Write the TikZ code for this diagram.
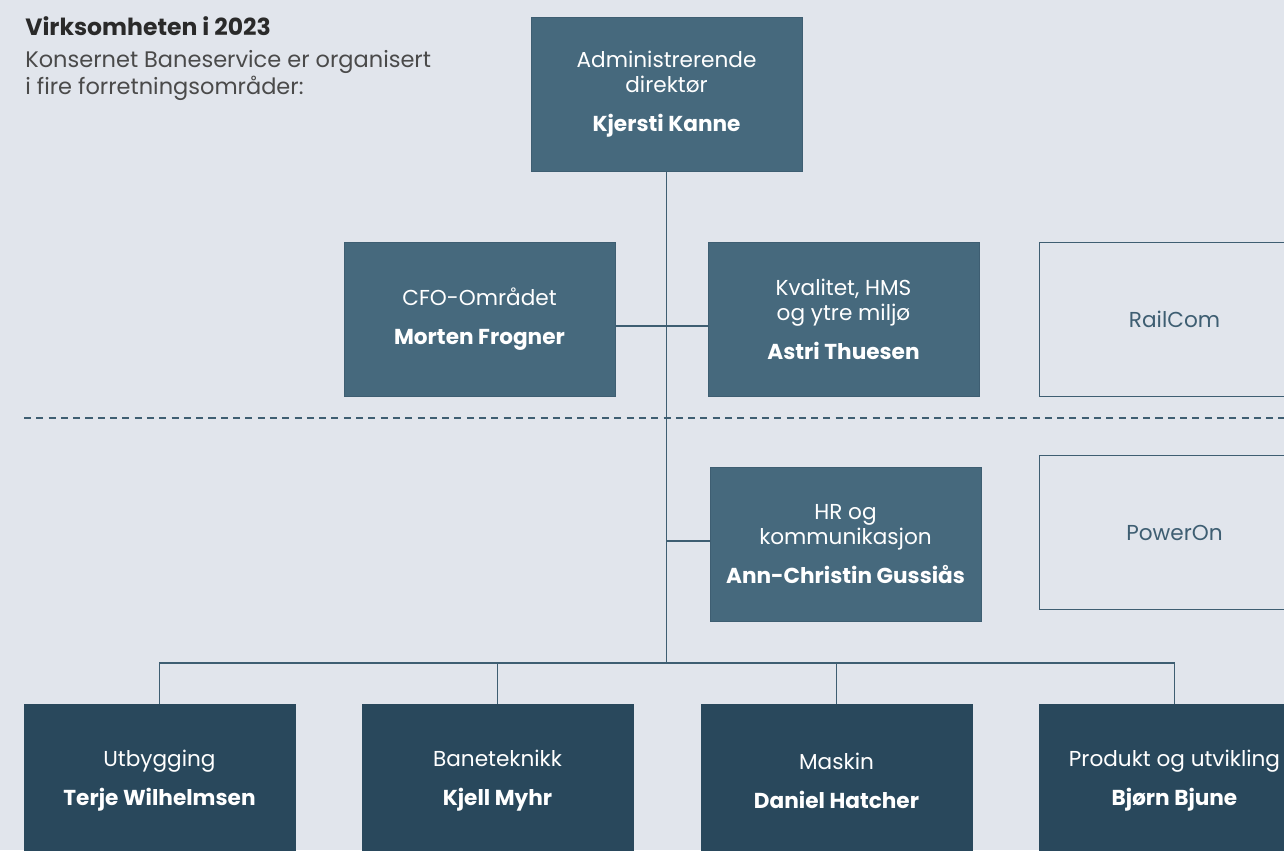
\documentclass[tikz,border=0pt]{standalone}
\usepackage{fontspec}
\setmainfont{Poppins}
\usepackage{tikz}

\definecolor{bgcol}{HTML}{E1E5EC}
\definecolor{midbox}{HTML}{46697D}
\definecolor{darkbox}{HTML}{29485C}
\definecolor{linecol}{HTML}{3E5E72}
\definecolor{headtxt}{HTML}{2A2A2A}

\begin{document}
\begin{tikzpicture}[x=0.02cm,y=-0.02cm,
	unit/.style={shape=rectangle,draw=linecol,fill=midbox,text=white,
		minimum width=5.42cm,minimum height=3.08cm,inner sep=0pt,align=center,
		font=\fontsize{12.3}{14.2}\selectfont},
	area/.style={unit,fill=darkbox,draw=darkbox},
	company/.style={unit,fill=bgcol,text=linecol},
	headline/.style={anchor=base west,inner sep=0pt,text=headtxt!85,font=\fontsize{12.8}{15}\selectfont},
	link/.style={draw=linecol,line width=0.6pt}]

	\fill[bgcol] (0,0) rectangle (1284,850);
	\useasboundingbox (0,0) rectangle (1284,850);
	\clip (0,0) rectangle (1284,850);

	% header
	\node[headline,text=headtxt,font=\fontsize{13.4}{15}\bfseries] (title) at (25,35) {Virksomheten i 2023};
	\node[headline] (intro1) at (25,67) {Konsernet Baneservice er organisert};
	\node[headline] (intro2) at (25,94) {i fire forretningsområder:};

	% boxes
	\node[unit] (ceo)  at (666.5,94)  {Administrerende\\direktør\\[8pt]\textbf{Kjersti Kanne}};
	\node[unit] (cfo)  at (479.5,319) {CFO-Området\\[8pt]\textbf{Morten Frogner}};
	\node[unit] (kval) at (843.5,319) {Kvalitet, HMS\\og ytre miljø\\[8pt]\textbf{Astri Thuesen}};
	\node[unit] (hr)   at (845.5,544) {HR og\\kommunikasjon\\[8pt]\textbf{Ann-Christin Gussiås}};
	\node[company] (rail)  at (1174.5,319)   {RailCom};
	\node[company] (power) at (1174.5,532.5) {PowerOn};

	\node[area] (utb)  at (159.5,781)  {Utbygging\\[8pt]\textbf{Terje Wilhelmsen}};
	\node[area] (bane) at (497.5,781)  {Baneteknikk\\[8pt]\textbf{Kjell Myhr}};
	\node[area] (mask) at (836.5,781)  {Maskin\\[8pt]\textbf{Daniel Hatcher}};
	\node[area] (prod) at (1174.5,781) {Produkt og utvikling\\[8pt]\textbf{Bjørn Bjune}};

	% lines
	\coordinate (j1)  at (666,326);
	\coordinate (j2)  at (666,541);
	\coordinate (bus) at (666,663);
	\coordinate (dl)  at (24,418);
	\coordinate (dr)  at (1284,418);

	\path[link] (ceo.south) -- (ceo.south |- bus);
	\path[link] (cfo.east |- j1) -- (kval.west |- j1);
	\path[link] (j2) -- (hr.west |- j2);
	\path[link] (utb.north) |- (prod.north |- bus) -- (prod.north);
	\path[link] (bane.north) -- (bane.north |- bus);
	\path[link] (mask.north) -- (mask.north |- bus);
	\path[link,dash pattern=on 4pt off 3pt] (dl) -- (dr);

\end{tikzpicture}
\end{document}
